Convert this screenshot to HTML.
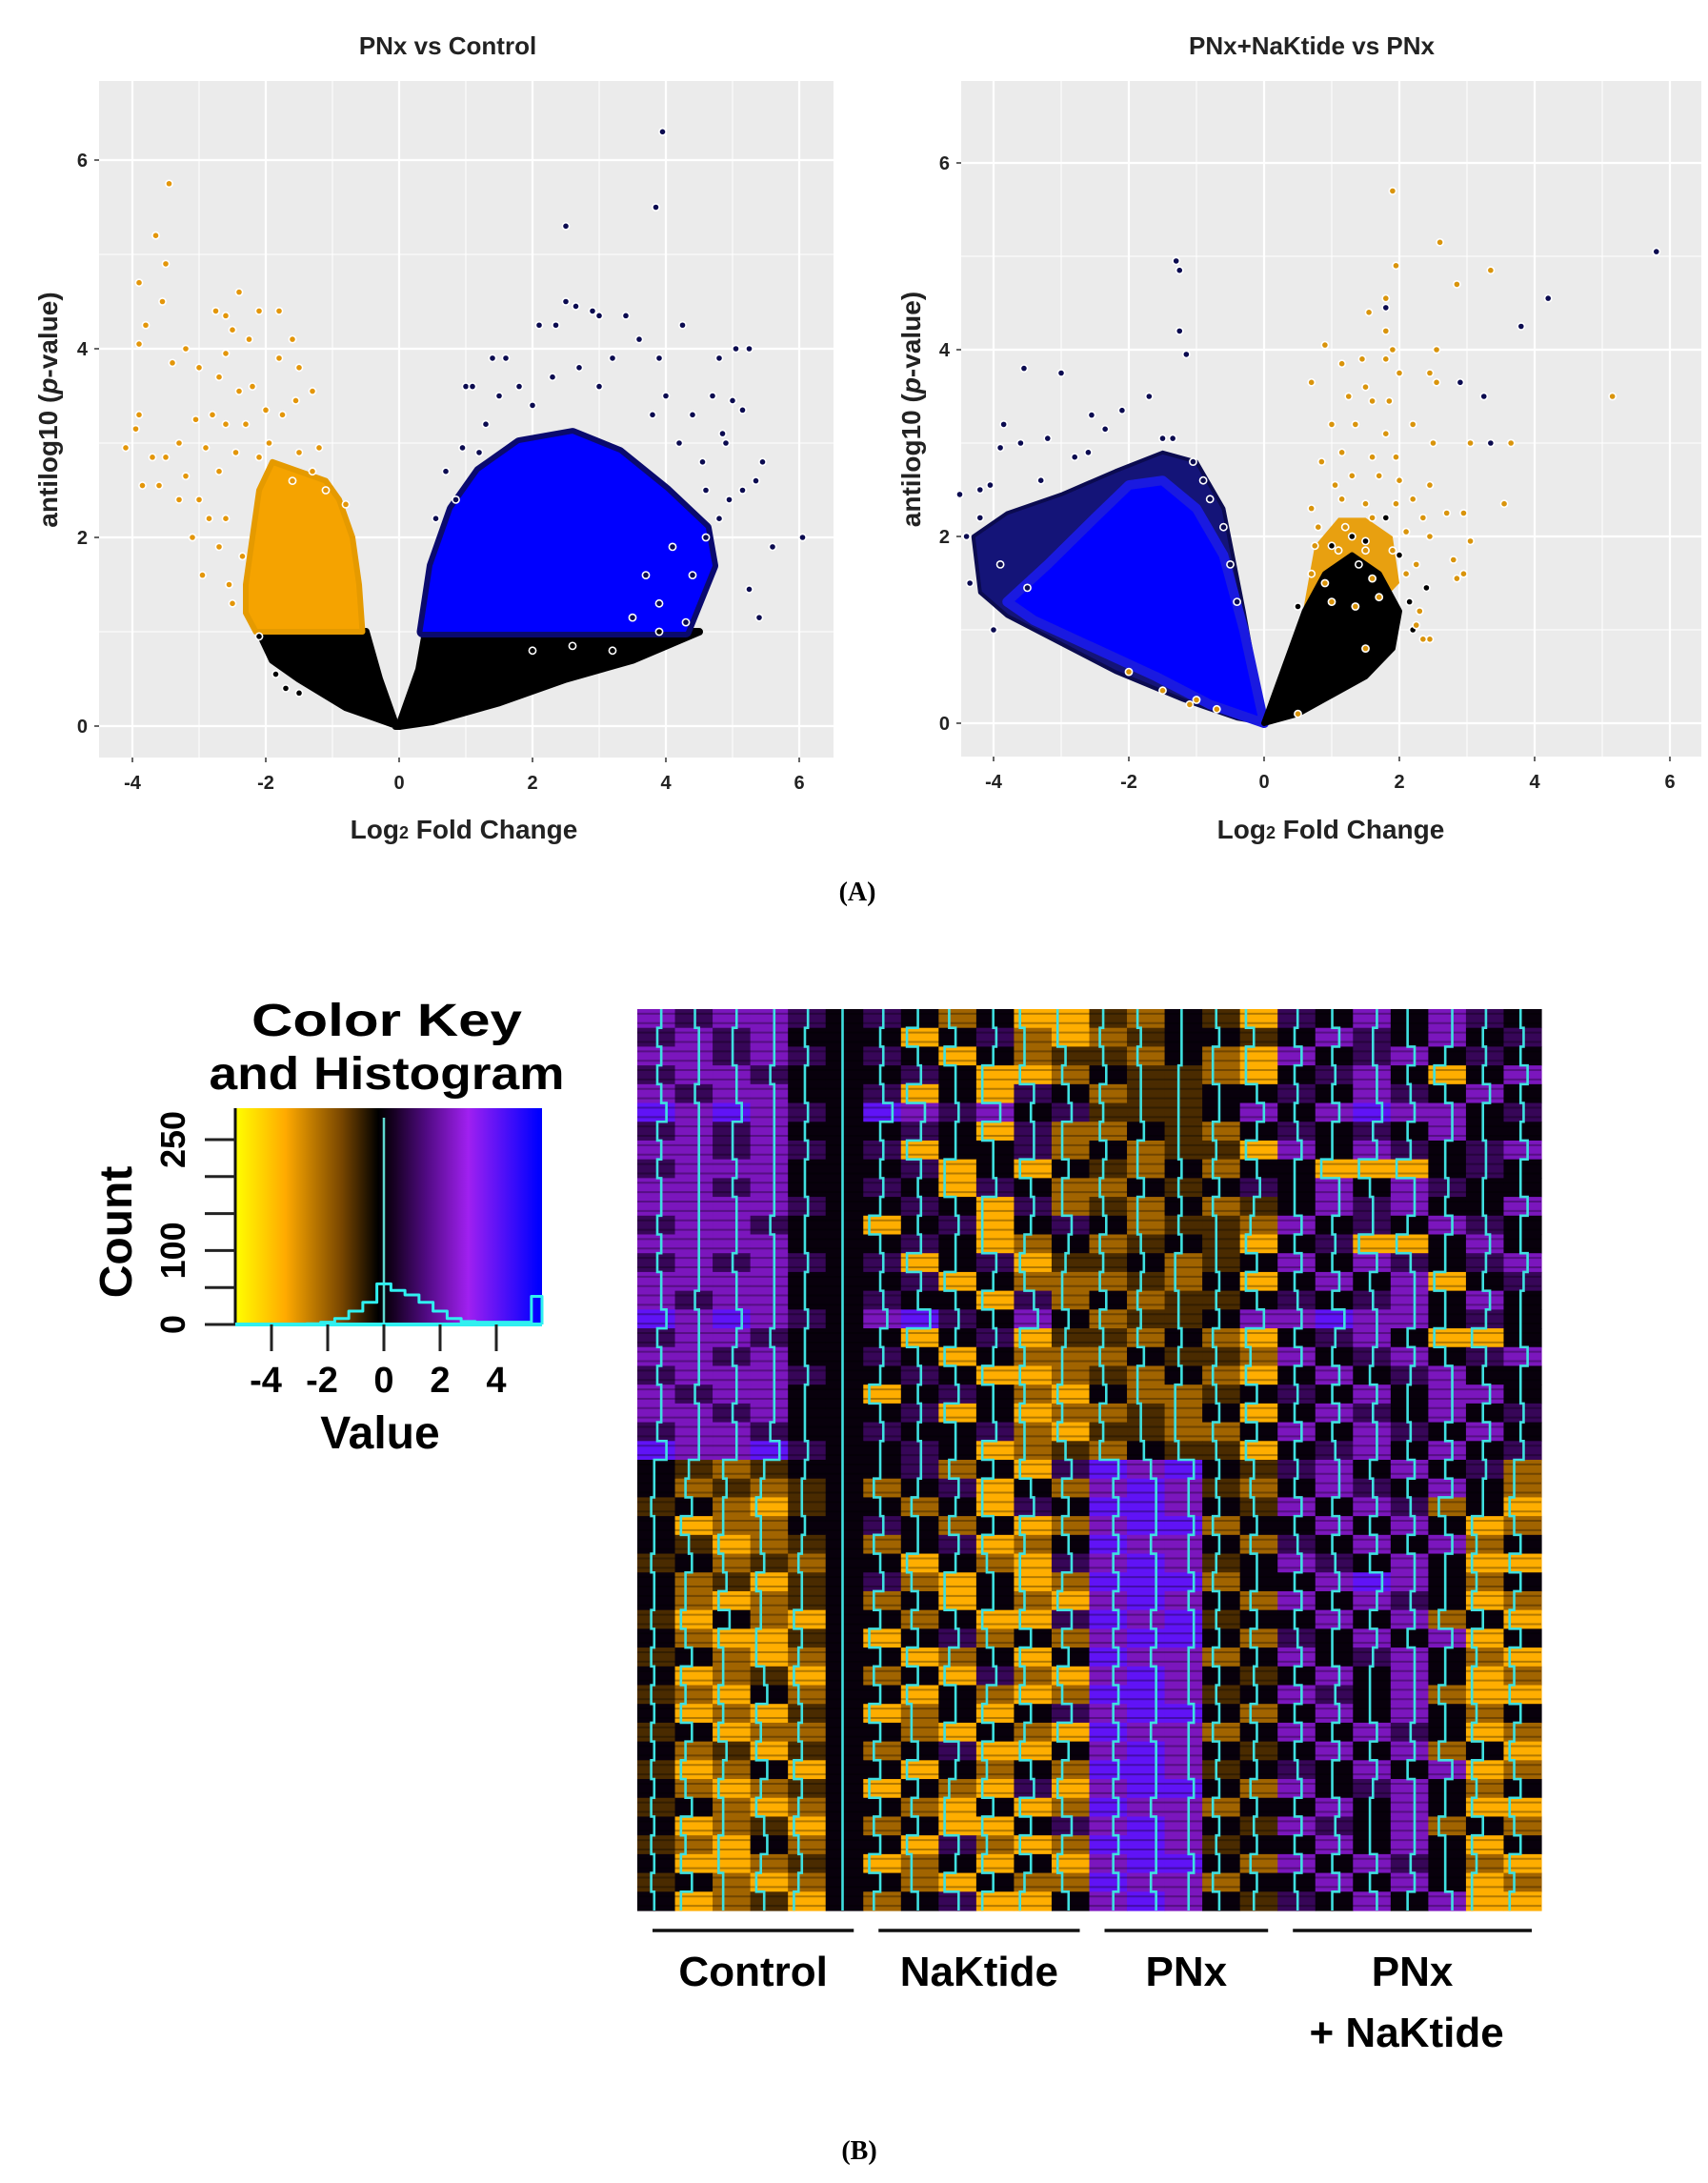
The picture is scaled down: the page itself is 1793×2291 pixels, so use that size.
<!DOCTYPE html>
<html><head><meta charset="utf-8"><style>
html,body{margin:0;padding:0;background:#fff;}
svg{display:block;font-family:"Liberation Sans",sans-serif;}
</style></head>
<body>
<svg id="fig" width="1793" height="2291" viewBox="0 0 1793 2291" xmlns="http://www.w3.org/2000/svg">
<defs>
<linearGradient id="keygrad" x1="0" x2="1" y1="0" y2="0"></linearGradient>
</defs>
</svg>
<script>
// ---------- Volcano data (data units: [log2FC, antilog10 p]) ----------
const leftOrangeDense = [[-0.55,1.0],[-0.6,1.5],[-0.7,2.0],[-0.9,2.4],[-1.1,2.6],[-1.5,2.7],[-1.9,2.8],[-2.1,2.5],[-2.2,2.0],[-2.3,1.5],[-2.3,1.2],[-2.15,1.0]];
const leftBlackNeg = [[-0.05,0],[-0.3,0.5],[-0.5,1.0],[-2.1,1.0],[-1.9,0.7],[-1.5,0.5],[-0.8,0.2],[0,0]];
const leftBlackPos = [[0,0],[0.3,0.6],[0.4,1.0],[4.5,1.0],[3.5,0.7],[2.5,0.5],[1.5,0.25],[0.5,0.05]];
const leftBlueDense = [[0.35,1.0],[0.5,1.7],[0.8,2.3],[1.2,2.7],[1.8,3.0],[2.6,3.1],[3.3,2.9],[4.0,2.5],[4.6,2.1],[4.7,1.7],[4.3,1.0]];
const leftOrangePts = [[-3.45,5.75],[-3.65,5.2],[-3.5,4.9],[-3.9,4.7],[-3.55,4.5],[-3.8,4.25],[-3.9,4.05],[-2.4,4.6],[-2.75,4.4],[-2.6,4.35],[-2.1,4.4],[-1.8,4.4],[-2.5,4.2],[-1.6,4.1],[-2.25,4.1],[-3.2,4.0],[-3.4,3.85],[-2.6,3.95],[-1.8,3.9],[-1.5,3.8],[-3.0,3.8],[-2.7,3.7],[-3.9,3.3],[-3.95,3.15],[-4.1,2.95],[-3.7,2.85],[-3.5,2.85],[-3.85,2.55],[-3.6,2.55],[-3.3,3.0],[-3.2,2.65],[-3.0,2.4],[-3.3,2.4],[-3.1,2.0],[-2.95,1.6],[-2.4,3.55],[-2.2,3.6],[-2.8,3.3],[-2.6,3.2],[-1.3,3.55],[-1.2,2.95],[-1.3,2.7],[-0.8,2.35],[-1.1,2.5],[-2.6,2.2],[-2.7,2.7],[-2.35,1.8],[-2.55,1.5],[-2.7,1.9],[-2.5,1.3],[-1.55,3.45],[-1.75,3.3],[-2.0,3.35],[-1.95,3.0],[-2.1,2.85],[-2.45,2.9],[-2.9,2.95],[-3.05,3.25],[-2.3,3.2],[-1.5,2.9],[-1.6,2.6],[-2.85,2.2]];
const leftNavyPts = [[3.95,6.3],[3.85,5.5],[2.5,5.3],[2.5,4.5],[2.9,4.4],[2.65,4.45],[3.4,4.35],[3.0,4.35],[2.1,4.25],[2.35,4.25],[4.25,4.25],[3.6,4.1],[3.9,3.9],[5.05,4.0],[5.25,4.0],[4.8,3.9],[1.4,3.9],[1.6,3.9],[1.0,3.6],[1.1,3.6],[4.0,3.5],[4.7,3.5],[5.0,3.45],[5.15,3.35],[4.85,3.1],[4.9,3.0],[5.45,2.8],[5.35,2.6],[5.15,2.5],[4.95,2.4],[6.05,2.0],[5.6,1.9],[5.25,1.45],[5.4,1.15],[3.9,1.3],[3.5,1.15],[0.95,2.95],[1.2,2.9],[0.7,2.7],[0.85,2.4],[0.55,2.2],[4.4,1.6],[4.3,1.1],[4.6,2.0],[4.55,2.8],[4.2,3.0],[3.2,3.9],[1.8,3.6],[1.5,3.5],[2.7,3.8],[3.0,3.6],[3.8,3.3],[4.4,3.3],[4.6,2.5],[4.8,2.2],[3.7,1.6],[4.1,1.9],[1.3,3.2],[2.0,3.4],[2.3,3.7]];
const leftBlackPts = [[-1.7,0.4],[-1.5,0.35],[-1.85,0.55],[-2.1,0.95],[2.6,0.85],[2.0,0.8],[3.2,0.8],[3.9,1.0]];

const rightNavyDense = [[0,0],[-0.3,1.2],[-0.6,2.3],[-1.0,2.8],[-1.5,2.9],[-2.2,2.7],[-3.0,2.45],[-3.8,2.25],[-4.3,2.0],[-4.2,1.4],[-3.8,1.15],[-3.0,0.85],[-2.2,0.55],[-1.2,0.25],[-0.4,0.05]];
const rightBlueDense = [[0,0],[-0.3,1.0],[-0.6,1.8],[-1.0,2.3],[-1.5,2.6],[-2.0,2.55],[-2.5,2.2],[-3.2,1.7],[-3.8,1.3],[-3.4,1.1],[-2.5,0.8],[-1.6,0.5],[-0.8,0.2]];
const rightOrangeDense = [[0.55,1.1],[0.75,1.9],[1.1,2.2],[1.5,2.2],[1.9,2.0],[2.0,1.5],[1.6,1.2],[1.0,1.0]];
const rightBlackDense = [[0,0],[0.2,0.4],[0.4,0.8],[0.6,1.2],[0.9,1.6],[1.3,1.8],[1.7,1.6],[2.0,1.2],[1.9,0.8],[1.5,0.5],[1.0,0.3],[0.5,0.1]];
const rightNavyPts = [[-1.3,4.95],[-1.25,4.85],[-1.25,4.2],[-1.15,3.95],[-3.55,3.8],[-3.0,3.75],[-1.7,3.5],[-2.1,3.35],[-2.55,3.3],[-2.35,3.15],[-3.85,3.2],[-3.9,2.95],[-4.5,2.45],[-4.05,2.55],[-4.2,2.2],[-4.35,1.5],[-4.0,1.0],[-3.6,3.0],[-3.2,3.05],[-2.8,2.85],[5.8,5.05],[4.2,4.55],[3.8,4.25],[2.9,3.65],[3.25,3.5],[3.35,3.0],[1.8,4.45],[-1.05,2.8],[-0.9,2.6],[-1.35,3.05],[-1.5,3.05],[-2.6,2.9],[-3.3,2.6],[-4.2,2.5],[-4.4,2.0],[-3.9,1.7],[-3.5,1.45],[-0.4,1.3],[-0.5,1.7],[-0.6,2.1],[-0.8,2.4]];
const rightBlackPts = [[1.3,2.0],[1.8,2.2],[2.0,1.8],[2.15,1.3],[2.2,1.0],[1.5,1.95],[1.0,1.9],[0.5,1.25],[1.4,1.7],[2.4,1.45]];
const rightOrangePts = [[1.9,5.7],[2.6,5.15],[3.35,4.85],[1.95,4.9],[2.85,4.7],[1.8,4.55],[1.55,4.4],[1.8,4.2],[0.9,4.05],[1.9,4.0],[2.55,4.0],[1.15,3.85],[1.45,3.9],[1.8,3.9],[2.0,3.75],[2.45,3.75],[2.55,3.65],[0.7,3.65],[1.5,3.6],[1.25,3.5],[1.6,3.45],[1.85,3.45],[5.15,3.5],[1.0,3.2],[1.35,3.2],[1.8,3.1],[2.2,3.2],[3.05,3.0],[3.65,3.0],[2.5,3.0],[1.15,2.9],[1.6,2.85],[1.95,2.85],[0.85,2.8],[1.3,2.65],[1.7,2.65],[2.0,2.6],[2.45,2.55],[1.05,2.55],[0.7,2.3],[1.15,2.4],[1.5,2.35],[1.95,2.35],[2.2,2.4],[2.35,2.2],[2.7,2.25],[2.95,2.25],[3.55,2.35],[0.8,2.1],[1.2,2.1],[1.6,2.2],[2.1,2.05],[2.45,2.0],[3.05,1.95],[0.75,1.9],[1.1,1.85],[1.5,1.85],[1.9,1.85],[2.25,1.7],[2.8,1.75],[2.85,1.55],[2.95,1.6],[0.7,1.6],[0.9,1.5],[1.6,1.55],[2.1,1.6],[2.3,1.2],[2.25,1.05],[2.45,0.9],[2.35,0.9],[1.5,0.8],[1.0,1.3],[1.35,1.25],[1.7,1.35],[0.5,0.1],[-0.7,0.15],[-1.0,0.25],[-1.1,0.2],[-1.5,0.35],[-2.0,0.55]];

const xTicks = [-4,-2,0,2,4,6];
const yTicks = [0,2,4,6];

// ---------- Heatmap data (codes per cell; 24 columns x 48 rows) ----------
const heatGroups = ["Control","NaKtide","PNx","PNx+NaKtide"];
const groupCols = [6,6,5,7];
const codeValues = {Y:-3.6,O:-2.1,o:-1.0,k:0,p:1.0,P:2.3,B:4.0};
const heatRows = [
"PpPPpkpkOkYYoOkoYpkPkPpk","pPpPkkkYkpOYOokkokPpkPkp","PPpPpkpkYkOooOkOYPkpPkpk","pPPpkkkpkYYOkooOYkpPkYkP",
"PpPPkkpYkYpkOookkpkPpkPk","BPBPpkBPpPkpoookPkPBPPkp","pPpPkkkpkYpOOkoOkpkpkPkk","PPpPpkpYkkpOkOooYPkPpkpP",
"pPPPkkkpYkYkoOkOkkYYYkpk","PPpPkkpkYpkOOkokpkPkPpkk","PPPPpkkpkYpOoOkOokPpPkkP","pPPpkkYkpYkpkOooOPkpkPpk",
"PPPPkkkpkYOkOokoYkpYYkPk","pPpPpkpYkpYookOokPkPpkpP","PPPPkkkpYkOOOoOkYkPkPYkp","PpPPkkpkkYpOkOookpkpPkPk",
"BPBPpkPBpkPkOookPPBPPkpk","pPPpkkkYkpYooOkOYkpPkYYk","PPpPkkpkYkOOOkooOPkpPkpP","pPPPpkkpkYYOoOkOYkPkpPkk",
"PpPPkkYkpkOYkOOokpkPkPPk","PPpPkkkpYkYOOoOkYkPpkPkp","pPPpkkpkkpOYooOOkPkPpkPk","BPPBpkkpkYOoOkooYkpPkPkp",
"koOokkkpOkYpBPBkopPkPkpO","kOoOokOkpYkOPBPoOkPpkPkO","okOYokkOkYpkBBPkoPkPpOkY","kYOOkkpkOkYOPBBOkkPkPkYO",
"koYOokOkpYOkBPPkOpkPkPOk","okOoOkkYkOYpPBPokPpkPkYY","kOoYokpOYkYOBBBOkkPBPkOk","kOYOokOkYkOYPBPkOPkPpkYO",
"oYkOYkkOkYYpBPBokkPkPOkY","kOYYokYkpOkOPBBkOpkPkPYk","okOYOkkYOkYkBPPOkPkpPkOY","kYOoYkOkYpOYPBPkokPkPkYO",
"oOYkOkkYkOYOBBPokPpkPOYY","kYOYokYOkYkpPBBkOkPkPkOk","okYOOkkOYkOYBPPOkPkPpkYO","kOoYokOkpYYkPBPkokPkPOkY",
"oYOkYkkYkOkOBBPokpkPkPYO","kOYOokYkOYpYPBBkOPkpPkOk","okOYOkkOYkYOBPPOkkPkPkYY","kYOoYkOkYYkpPBPkoPpkPOkO",
"oOYkOkkYpOYOBBPokkPkPkYk","kYYOokYOkYkYPBBkOPkPpkOY","okOYOkkOYkOOBPPOkkPkPkYO","kYOoYkOkpYYkPBPkopkPkPYY"
];

// ---------- Color key histogram (count per 0.5-wide bin, centers -5..5.5) ----------
const histCenters = [-5,-4.5,-4,-3.5,-3,-2.5,-2,-1.5,-1,-0.5,0,0.5,1,1.5,2,2.5,3,3.5,4,4.5,5,5.5];
const histCounts  = [0,0,0,0,0,1,3,8,18,30,55,46,40,30,18,8,4,3,3,3,3,38];
const keyTickValues = [-4,-2,0,2,4];
const countTickValues = [0,50,100,150,200,250];
const countTickLabels = [["0",0],["100",100],["250",250]];

const NS = "http://www.w3.org/2000/svg";
const svg = document.getElementById("fig");
function mk(tag, attrs, parent){
  const e = document.createElementNS(NS, tag);
  for (const k in attrs) e.setAttribute(k, attrs[k]);
  (parent||svg).appendChild(e);
  return e;
}
function txt(str, attrs, parent){ const e = mk("text", attrs, parent); e.textContent = str; return e; }

// ---------- Volcano plots ----------
function volcano(cfg){
  const g = mk("g", {});
  
  
  const X = v => cfg.x0 + v*cfg.ux;
  const Y = v => cfg.y0 - v*cfg.uy;
  const bg = mk("rect", {x:cfg.left, y:cfg.top, width:cfg.right-cfg.left, height:cfg.bottom-cfg.top, fill:"#ebebeb"}, g);
  
  
  for (let v=-5; v<=7; v++){
    const x = X(v); if (x<cfg.left||x>cfg.right) continue;
    const l = mk("line", {x1:x, x2:x, y1:cfg.top, y2:cfg.bottom, stroke:"#fff", "stroke-width": v%2===0?2.2:1}, g);
    
    
  }
  for (let v=-1; v<=7; v++){
    const y = Y(v); if (y<cfg.top||y>cfg.bottom) continue;
    const l = mk("line", {x1:cfg.left, x2:cfg.right, y1:y, y2:y, stroke:"#fff", "stroke-width": v%2===0?2.2:1}, g);
    
    
  }
  function poly(pts, fill, stroke, sw, nm){
    const p = mk("polygon", {points: pts.map(d=>X(d[0])+","+Y(d[1])).join(" "), fill:fill, stroke:stroke||"none", "stroke-width":sw||0, "stroke-linejoin":"round"}, g);
    
    
  }
  function dots(pts, fill, nm){
    pts.forEach(d=>{
      const c = mk("circle", {cx:X(d[0]), cy:Y(d[1]), r:3.6, fill:fill, stroke:"#fff", "stroke-width":1.6}, g);
      
      
    });
  }
  cfg.draw(poly, dots);
  xTicks.forEach(v=>{
    const x = X(v);
    const t = mk("line", {x1:x, x2:x, y1:cfg.bottom, y2:cfg.bottom+5, stroke:"#333", "stroke-width":1.5}, g);
    
    
    const lb = txt(String(v), {x:x, y:cfg.bottom+33, "text-anchor":"middle", "font-size":20, "font-weight":"bold", fill:"#222"}, g);
    
    
  });
  yTicks.forEach(v=>{
    const y = Y(v);
    const t = mk("line", {x1:cfg.left-5, x2:cfg.left, y1:y, y2:y, stroke:"#333", "stroke-width":1.5}, g);
    
    
    const lb = txt(String(v), {x:cfg.left-12, y:y+7, "text-anchor":"end", "font-size":20, "font-weight":"bold", fill:"#222"}, g);
    
    
  });
  const tt = txt(cfg.title, {x:cfg.titleX, y:57, "text-anchor":"middle", "font-size":26, "font-weight":"bold", fill:"#222"}, g);
  
  
  const xt = mk("text", {x:cfg.xTitleX, y:880, "text-anchor":"middle", "font-size":28, "font-weight":"bold", fill:"#222"}, g);
  xt.innerHTML = 'Log<tspan font-size="18">2</tspan> Fold Change';
  
  
  const cy = (cfg.top+cfg.bottom)/2 - 10;
  const yt = mk("text", {x:cfg.yTitleX, y:cy, "text-anchor":"middle", "font-size":28, "font-weight":"bold", fill:"#222", transform:"rotate(-90 "+cfg.yTitleX+" "+cy+")"}, g);
  yt.innerHTML = 'antilog10 (<tspan font-style="italic">p</tspan>-value)';
  
  
}

volcano({name:"volcano-pnx-vs-control", left:104, right:875, top:85, bottom:795, x0:419, ux:70, y0:762, uy:99,
  title:"PNx vs Control", titleX:470, xTitleX:487, yTitleX:60,
  draw:(poly,dots)=>{
    poly(leftBlackNeg, "#000", "#000", 8, "nonsignificant-left");
    poly(leftBlackPos, "#000", "#000", 8, "nonsignificant-right");
    poly(leftOrangeDense, "#f5a300", "#e59a00", 6, "downregulated-dense");
    poly(leftBlueDense, "#0a0a8a", "#0a0a6e", 12, "upregulated-edge");
    poly(leftBlueDense, "#0000ff", "none", 0, "upregulated-dense");
    dots(leftBlackPts, "#000", "nonsignificant-point");
    dots(leftOrangePts, "#e3960a", "downregulated-point");
    dots(leftNavyPts, "#0b0b50", "upregulated-point");
  }});

volcano({name:"volcano-pnx-naktide-vs-pnx", left:1009, right:1786, top:85, bottom:794, x0:1327, ux:71, y0:759, uy:98,
  title:"PNx+NaKtide vs PNx", titleX:1377, xTitleX:1397, yTitleX:966,
  draw:(poly,dots)=>{
    poly(rightNavyDense, "#141478", "#0b0b50", 4, "upregulated-edge");
    poly(rightBlueDense, "#0000ff", "#1a1ae0", 10, "upregulated-dense");
    poly(rightOrangeDense, "#e8a010", "none", 0, "downregulated-dense");
    poly(rightBlackDense, "#000", "#000", 6, "nonsignificant-dense");
    dots(rightBlackPts, "#000", "nonsignificant-point");
    dots(rightOrangePts, "#d9940c", "downregulated-point");
    dots(rightNavyPts, "#0b0b50", "upregulated-point");
  }});

const lblA = txt("(A)", {x:900, y:945, "text-anchor":"middle", "font-size":28, "font-weight":"bold", "font-family":"Liberation Serif, serif", fill:"#000"});



// ---------- Color mapping ----------
const stops = [[-5.5,[255,255,0]],[-3.5,[255,170,0]],[-1.5,[120,70,0]],[-0.2,[0,0,0]],[0.3,[20,0,30]],[1.5,[80,10,130]],[3,[160,32,240]],[5.5,[0,0,255]]];
function col(v){
  if (v<=stops[0][0]) return "rgb("+stops[0][1]+")";
  for (let i=1;i<stops.length;i++){
    if (v<=stops[i][0]){
      const a=stops[i-1], b=stops[i], t=(v-a[0])/(b[0]-a[0]);
      return "rgb("+a[1].map((c,k)=>Math.round(c+(b[1][k]-c)*t)).join(",")+")";
    }
  }
  return "rgb("+stops[stops.length-1][1]+")";
}

// ---------- Heatmap ----------
const hx0=669, hx1=1618, hy0=1059, hy1=2005;
const nCols = groupCols.reduce((a,b)=>a+b,0);
const colW = (hx1-hx0)/nCols, rowH = (hy1-hy0)/heatRows.length;
const hg = mk("g", {});


heatRows.forEach((row, r)=>{
  for (let c=0;c<nCols;c++){
    const v = codeValues[row[c]] ?? 0;
    const cell = mk("rect", {x:hx0+c*colW, y:hy0+r*rowH, width:colW+0.6, height:rowH+0.6, fill:col(v)}, hg);
    
    
  }
});
// thin row separators to mimic fine striping
for (let r=0;r<heatRows.length*2;r++){
  const y = hy0 + r*rowH/2 + rowH/4;
  const s = mk("line", {x1:hx0, x2:hx1, y1:y, y2:y, stroke:"#000", "stroke-width":2, "stroke-opacity":0.3}, hg);
  
  
}
for (let c=0;c<nCols;c++){
  const cx = hx0 + c*colW + colW*0.45;
  let d = "";
  heatRows.forEach((row, r)=>{
    const v = codeValues[row[c]] ?? 0;
    const x = cx + v*3.2;
    d += (r===0?"M":"L")+x+","+(hy0+r*rowH)+" L"+x+","+(hy0+(r+1)*rowH)+" ";
  });
  const tr = mk("path", {d:d, fill:"none", stroke:"#3fe0e0", "stroke-width":2.6}, hg);
  
  
}
const labelY = [2084, 2084, 2084, 2084];
let cstart = 0;
heatGroups.forEach((gname, i)=>{
  const xa = hx0 + cstart*colW + 16, xb = hx0 + (cstart+groupCols[i])*colW - 10;
  const bar = mk("line", {x1:xa, x2:xb, y1:2026, y2:2026, stroke:"#111", "stroke-width":3.5});
  
  
  const mid = (xa+xb)/2;
  if (gname==="PNx+NaKtide"){
    const l1 = txt("PNx", {x:mid, y:labelY[i], "text-anchor":"middle", "font-size":44, "font-weight":"bold", fill:"#000"});
    
    
    const l2 = txt("+ NaKtide", {x:mid-6, y:2148, "text-anchor":"middle", "font-size":44, "font-weight":"bold", fill:"#000"});
    
    
  } else {
    const l = txt(gname, {x:mid, y:labelY[i], "text-anchor":"middle", "font-size":44, "font-weight":"bold", fill:"#000"});
    
    
  }
  cstart += groupCols[i];
});

// ---------- Color key ----------
const kx0=247, kx1=569, ky0=1163, ky1=1390;
const kv0 = 403, ku = 29.5;
const KX = v => kv0 + v*ku;
const KY = n => ky1 - n*0.776;
const grad = document.getElementById("keygrad");
stops.forEach(s=>{
  const off = Math.max(0, Math.min(1, (KX(s[0])-kx0)/(kx1-kx0)));
  mk("stop", {offset:off, "stop-color":col(s[0])}, grad);
});
const kg = mk("g", {});


const kbox = mk("rect", {x:kx0, y:ky0, width:kx1-kx0, height:ky1-ky0, fill:"url(#keygrad)"}, kg);


const kl = mk("line", {x1:kx0, x2:kx0, y1:ky0, y2:ky1, stroke:"#111", "stroke-width":3}, kg);


const zl = mk("line", {x1:KX(0), x2:KX(0), y1:ky0+10, y2:ky1, stroke:"#5fd8d0", "stroke-width":2.5}, kg);


let hd = "M"+kx0+","+ky1;
histCenters.forEach((c,i)=>{
  const xa = Math.max(kx0, KX(c-0.25)), xb = Math.min(kx1, KX(c+0.25));
  hd += " L"+xa+","+KY(histCounts[i])+" L"+xb+","+KY(histCounts[i]);
});
hd += " L"+kx1+","+ky1;
const hp = mk("path", {d:hd, fill:"none", stroke:"#30f0f0", "stroke-width":3, "stroke-linejoin":"round"}, kg);


const bl = mk("line", {x1:kx0, x2:kx1, y1:ky1, y2:ky1, stroke:"#30f0f0", "stroke-width":4}, kg);


countTickValues.forEach(n=>{
  const t = mk("line", {x1:215, x2:kx0, y1:KY(n), y2:KY(n), stroke:"#222", "stroke-width":3}, kg);
  
  
});
countTickLabels.forEach(p=>{
  const y = KY(p[1]);
  const t = txt(p[0], {x:0, y:0, "text-anchor":"middle", "font-size":36, "font-weight":"bold", fill:"#000", transform:"translate(194 "+y+") rotate(-90)"}, kg);
  
  
});
keyTickValues.forEach(v=>{
  const t = mk("line", {x1:KX(v), x2:KX(v), y1:ky1, y2:1418, stroke:"#222", "stroke-width":3}, kg);
  
  
  const l = txt(String(v), {x:KX(v)-(v<0?6:0), y:1461, "text-anchor":"middle", "font-size":38, "font-weight":"bold", fill:"#000"}, kg);
  
  
});
const vt = txt("Value", {x:399, y:1520, "text-anchor":"middle", "font-size":48, "font-weight":"bold", fill:"#000"}, kg);


const ct = txt("Count", {x:0, y:0, "text-anchor":"middle", "font-size":48, "font-weight":"bold", fill:"#000", transform:"translate(138 1293) rotate(-90)"}, kg);


const k1 = txt("Color Key", {x:406, y:1087, "text-anchor":"middle", "font-size":48, "font-weight":"bold", fill:"#000", textLength:284, lengthAdjust:"spacingAndGlyphs"}, kg);


const k2 = txt("and Histogram", {x:406, y:1143, "text-anchor":"middle", "font-size":48, "font-weight":"bold", fill:"#000", textLength:373, lengthAdjust:"spacingAndGlyphs"}, kg);



const lblB = txt("(B)", {x:902, y:2266, "text-anchor":"middle", "font-size":28, "font-weight":"bold", "font-family":"Liberation Serif, serif", fill:"#000"});


</script>
</body></html>
